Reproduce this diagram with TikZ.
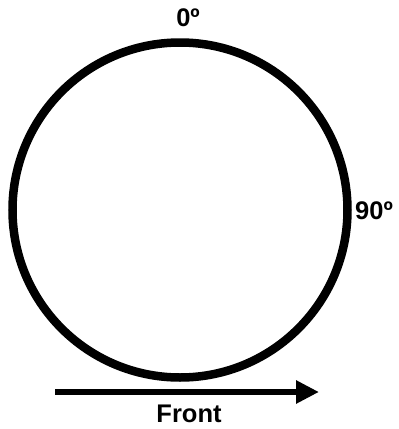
\documentclass[tikz,border=0pt]{standalone}
\usepackage{fontspec}
\setmainfont{Liberation Sans}
\usepackage{tikz}
\usetikzlibrary{arrows.meta,positioning}

\begin{document}
\begin{tikzpicture}[
    x=1pt, y=-1pt,
    dial/.style={draw, circle, line width=8.5pt, minimum size=335pt, inner sep=0pt},
    angle/.style={font=\fontsize{25.5}{28}\selectfont\bfseries, inner sep=0pt},
    front/.style={-{Triangle[length=23pt, width=22pt]}, line width=6pt}
]
\useasboundingbox (0,0) rectangle (399,429);

\node[dial] (dial) at (180,210) {};
\node[angle] (deg0)  at (188,17.5) {0º};
\node[angle] (deg90) at (374,211)  {90º};

\coordinate (tail) at (55,392);
\coordinate (tip)  at (319,392);
\node[angle] (frontlbl) at (189,414) {Front};

\draw[front] (tail) -- (tip);
\end{tikzpicture}
\end{document}
